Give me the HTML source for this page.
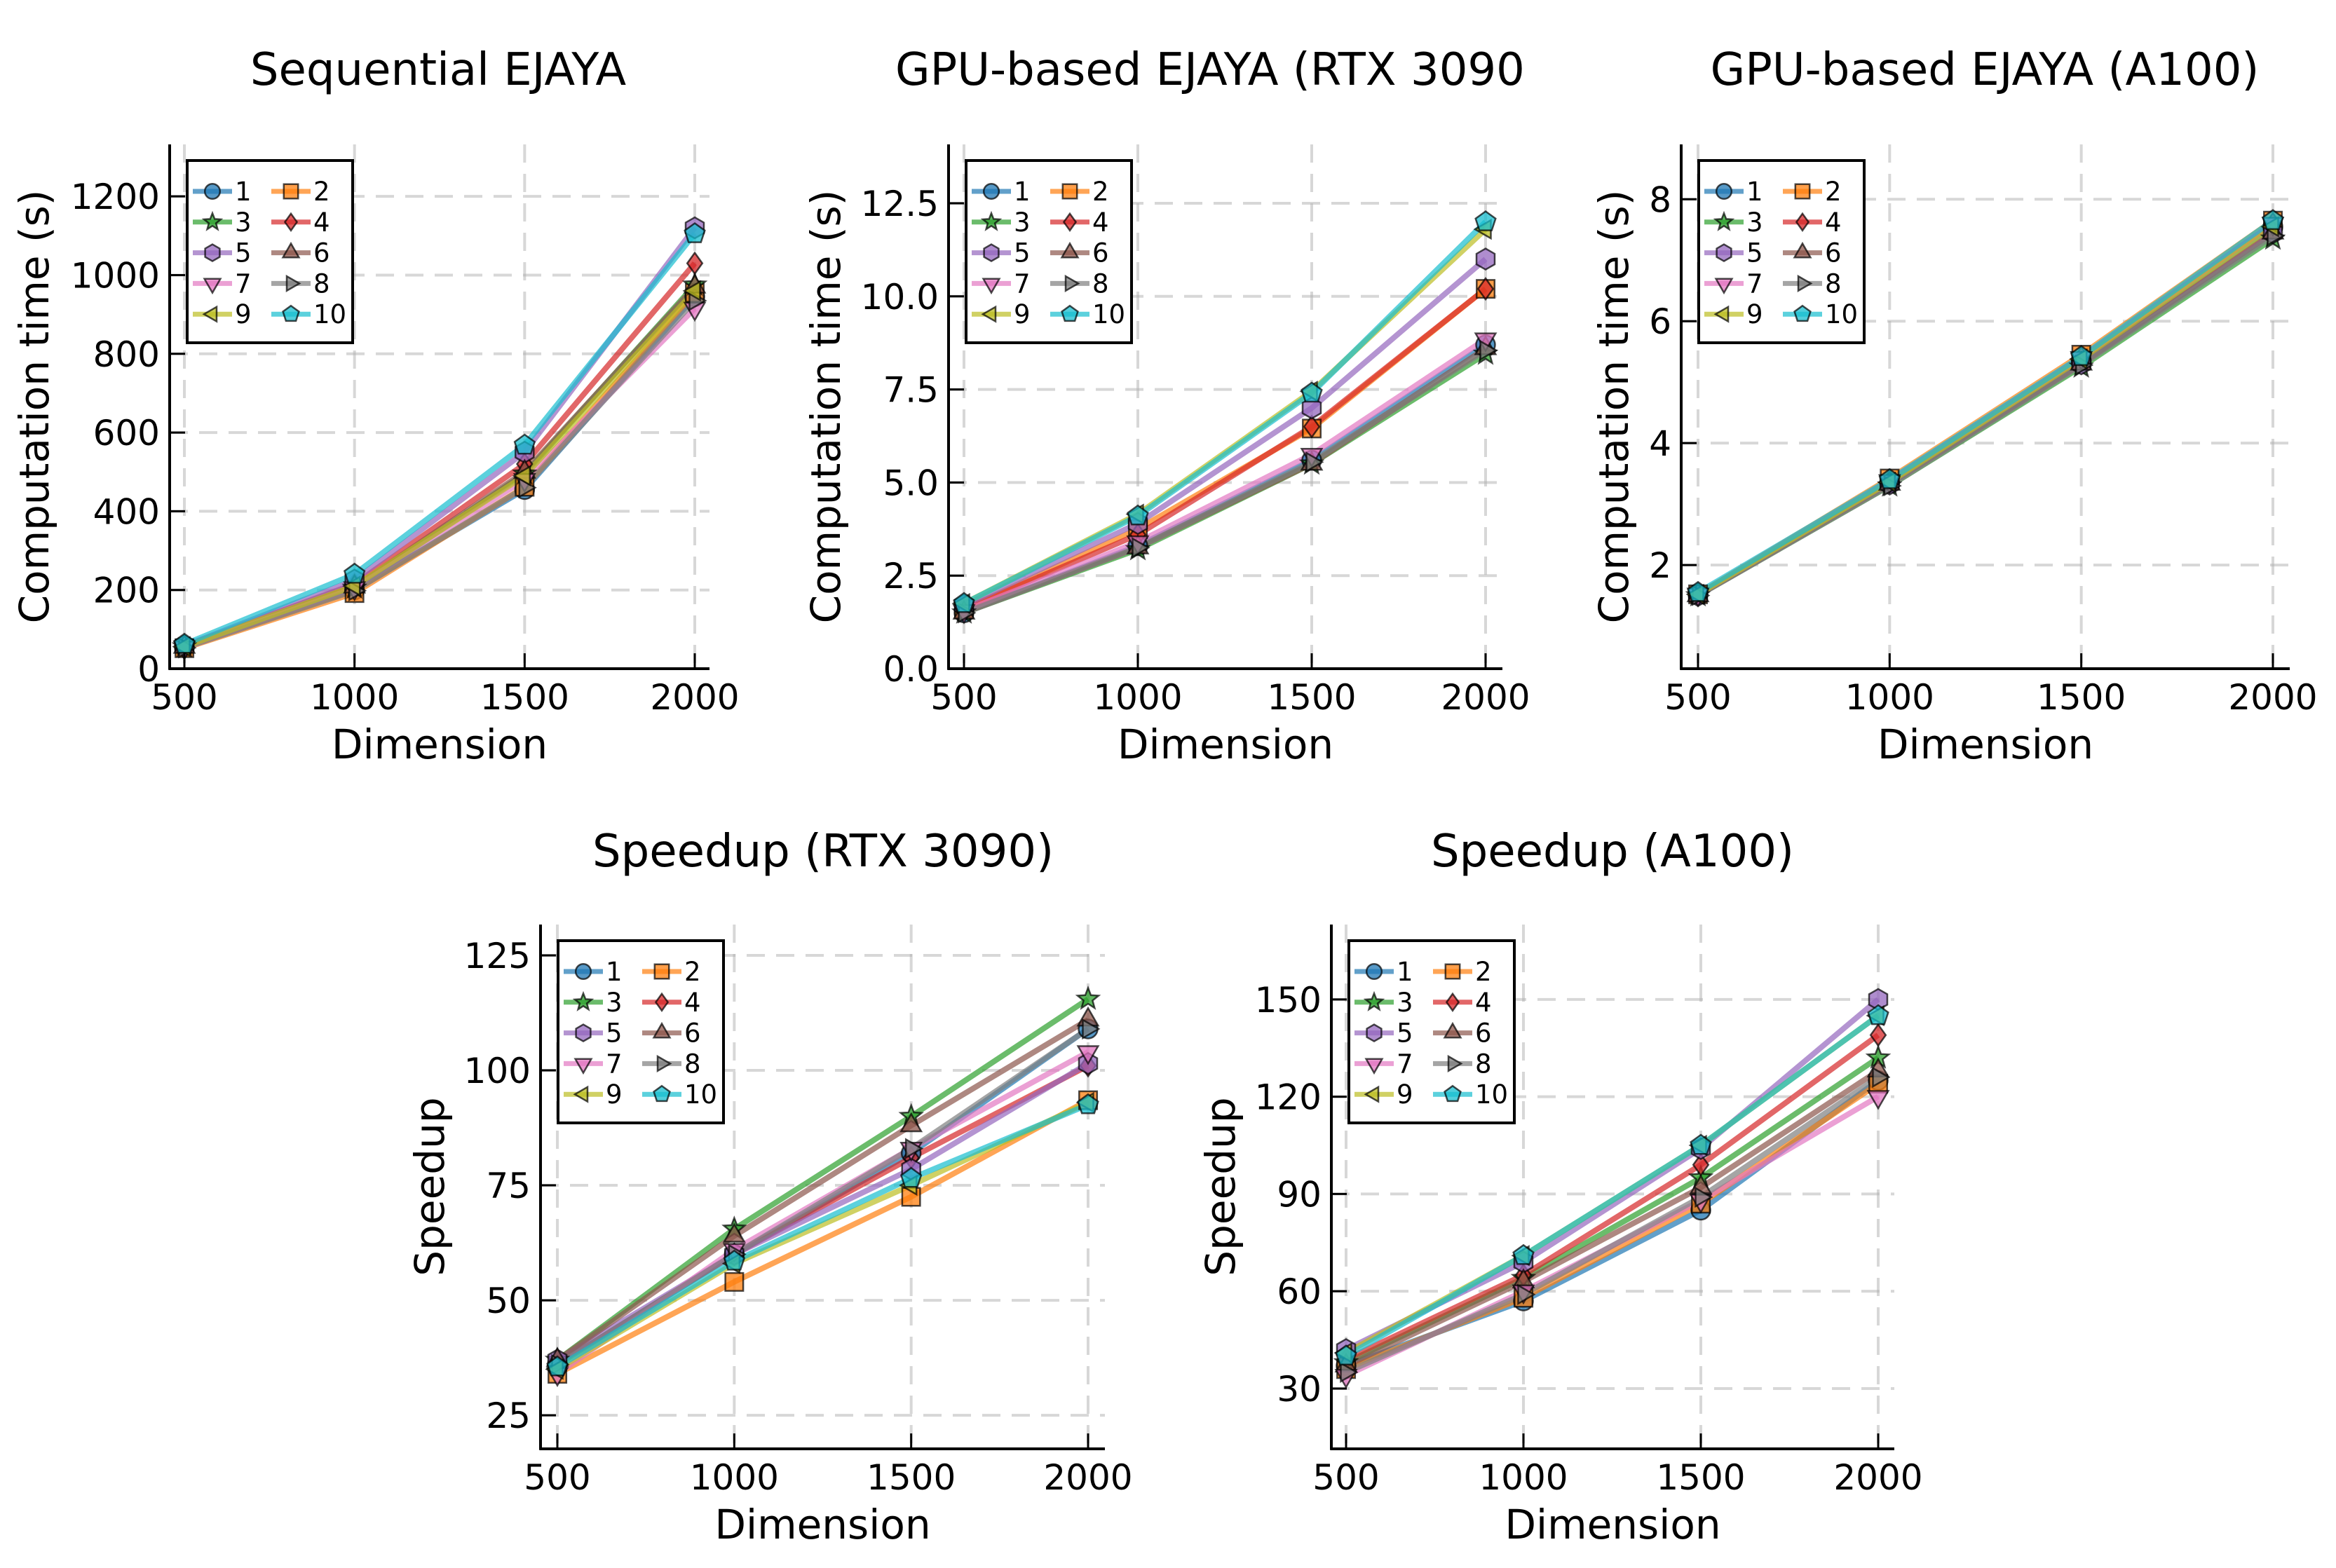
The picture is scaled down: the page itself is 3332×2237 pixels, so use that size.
<!DOCTYPE html>
<html><head><meta charset="utf-8"><style>
html,body{margin:0;padding:0;background:#fff;}
svg{display:block;font-family:"DejaVu Sans","Liberation Sans",sans-serif;}
</style></head><body>
<svg id="fig" width="3332" height="2237" viewBox="0 0 3332 2237" xmlns="http://www.w3.org/2000/svg">
<rect width="3332" height="2237" fill="#fff"/>
</svg>
<script>
const dims = [500, 1000, 1500, 2000];
const seriesNames = ["1","2","3","4","5","6","7","8","9","10"];
// Sequential EJAYA computation time (s)
const seqTime = [
 [55,200,455,945],[52,192,462,955],[56,205,495,975],[57,215,520,1030],[58,225,550,1120],
 [55,208,500,970],[54,205,480,915],[53,198,460,935],[56,210,490,960],[62,240,568,1105]];
// GPU RTX 3090 time (s)
const rtxTime = [
 [1.5,3.3,5.6,8.7],[1.6,3.75,6.45,10.2],[1.5,3.2,5.5,8.45],[1.6,3.6,6.5,10.2],[1.7,3.9,7.0,11.0],
 [1.5,3.25,5.5,8.6],[1.55,3.4,5.75,8.85],[1.5,3.25,5.55,8.55],[1.75,4.15,7.45,11.8],[1.75,4.1,7.4,12.0]];
// GPU A100 time (s)
const a100Time = [
 [1.52,3.35,5.35,7.55],[1.52,3.42,5.45,7.65],[1.5,3.3,5.25,7.35],[1.52,3.38,5.4,7.6],[1.5,3.33,5.3,7.45],
 [1.5,3.33,5.3,7.45],[1.52,3.38,5.4,7.6],[1.5,3.3,5.28,7.4],[1.52,3.36,5.38,7.55],[1.55,3.4,5.42,7.65]];
// Speedup RTX 3090
const rtxSpeed = [
 [36,60,82,109],[34,54,72.5,93.5],[37,65.5,90,115.5],[36,60,81,101],[37,60,78.5,101.5],
 [37,64,88,111],[34,61,83,104],[36,60,83,109],[35,58,75,93],[35.5,58.5,76.5,92.5]];
// Speedup A100
const a100Speed = [
 [37,57,85,125],[36,58,87,124],[38,64,95,132],[39,65,99,139],[42,69,104,150],
 [37,63,92,128],[34,60,88,120],[35,59,89,126],[41,71,105,145],[40,71,105,145]];
const seqTicks = [0,200,400,600,800,1000,1200];
const rtxTicks = [0.0,2.5,5.0,7.5,10.0,12.5];
const a100Ticks = [2,4,6,8];
const rtxSpeedTicks = [25,50,75,100,125];
const a100SpeedTicks = [30,60,90,120,150];

const colors = ["#1f77b4","#ff7f0e","#2ca02c","#d62728","#9467bd","#8c564b","#e377c2","#7f7f7f","#bcbd22","#17becf"];
const markers = ["o","s","*","D","h","^","v",">","<","p"];
const NS = "http://www.w3.org/2000/svg";
const fig = document.getElementById("fig");
function mk(tag, attrs, parent){ const e=document.createElementNS(NS,tag); for(const k in attrs) e.setAttribute(k,attrs[k]); (parent||fig).appendChild(e); return e; }

function polyPts(n, r, rot){ let p=[]; for(let i=0;i<n;i++){const a=rot+i*2*Math.PI/n; p.push([Math.cos(a)*r, Math.sin(a)*r]);} return p; }
function markerPoints(type, r){
  const up=-Math.PI/2;
  switch(type){
    case "s": return [[-r*0.85,-r*0.85],[r*0.85,-r*0.85],[r*0.85,r*0.85],[-r*0.85,r*0.85]];
    case "D": return [[0,-r],[r*0.72,0],[0,r],[-r*0.72,0]];
    case "h": return polyPts(6,r,up);
    case "p": return polyPts(5,r,up);
    case "^": return polyPts(3,r*1.1,up);
    case "v": return polyPts(3,r*1.1,Math.PI/2);
    case ">": return polyPts(3,r,0);
    case "<": return polyPts(3,r,Math.PI);
    case "*": { let p=[]; for(let i=0;i<10;i++){const a=up+i*Math.PI/5; const rr=i%2?r*0.45:r*1.05; p.push([Math.cos(a)*rr,Math.sin(a)*rr]);} return p; }
  }
  return null;
}
function drawMarker(g, type, x, y, r, color, name){
  let e;
  if(type==="o"){ e=mk("circle",{cx:x,cy:y,r:r*0.9},g); }
  else { const pts=markerPoints(type,r).map(p=>(x+p[0]).toFixed(1)+","+(y+p[1]).toFixed(1)).join(" "); e=mk("polygon",{points:pts},g); }
  e.setAttribute("fill",color); e.setAttribute("fill-opacity","0.75");
  e.setAttribute("stroke","#000"); e.setAttribute("stroke-opacity","0.7"); e.setAttribute("stroke-width","2.5");
  
  
  return e;
}

function panel(cfg){
  const g = mk("g",{});
  
  
  const {L,R,T,B,x500,x2000,ymin,ymax} = cfg;
  const sx = v => x500 + (v-500)*(x2000-x500)/1500;
  const sy = v => B - (v-ymin)*(B-T)/(ymax-ymin);
  dims.forEach(d=>{ const l=mk("line",{x1:sx(d),x2:sx(d),y1:T,y2:B,stroke:"#b0b0b0","stroke-opacity":"0.5","stroke-width":"4","stroke-dasharray":"26,16"},g);
      });
  cfg.ticks.forEach(t=>{ const l=mk("line",{x1:L,x2:R,y1:sy(t),y2:sy(t),stroke:"#b0b0b0","stroke-opacity":"0.5","stroke-width":"4","stroke-dasharray":"26,16"},g);
      });
  cfg.data.forEach((s,i)=>{
    const pts=s.map((v,j)=>sx(dims[j]).toFixed(1)+","+sy(v).toFixed(1)).join(" ");
    const pl=mk("polyline",{points:pts,fill:"none",stroke:colors[i],"stroke-opacity":"0.7","stroke-width":"8","stroke-linejoin":"round"},g);
    
    
  });
  cfg.data.forEach((s,i)=>{ s.forEach((v,j)=>drawMarker(g,markers[i],sx(dims[j]),sy(v),15,colors[i],'marker-'+seriesNames[i])); });
  const sp1=mk("line",{x1:L,x2:L,y1:T,y2:B+1.5,stroke:"#000","stroke-width":"4"},g);
   
  const sp2=mk("line",{x1:L-1.5,x2:R,y1:B,y2:B,stroke:"#000","stroke-width":"4"},g);
   
  dims.forEach(d=>{
    const tl=mk("line",{x1:sx(d),x2:sx(d),y1:B,y2:B-22,stroke:"#000","stroke-width":"3"},g);
     
    const tx=mk("text",{x:sx(d),y:B+58,"text-anchor":"middle","font-size":"50"},g); tx.textContent=d;
     
  });
  cfg.ticks.forEach(t=>{
    const tl=mk("line",{x1:L,x2:L+22,y1:sy(t),y2:sy(t),stroke:"#000","stroke-width":"3"},g);
     
    const tx=mk("text",{x:L-14,y:sy(t)+18,"text-anchor":"end","font-size":"50"},g); tx.textContent=cfg.fmt(t);
     
  });
  const xl=mk("text",{x:(L+R)/2,y:B+128,"text-anchor":"middle","font-size":"58"},g); xl.textContent="Dimension";
   
  const yl=mk("text",{x:cfg.ylx,y:(T+B)/2,"text-anchor":"middle","font-size":"58",transform:`rotate(-90 ${cfg.ylx} ${(T+B)/2})`,dy:"20"},g); yl.textContent=cfg.ylabel;
   
  const tt=mk("text",{x:cfg.titleX,y:cfg.titleY,"text-anchor":cfg.titleAnchor||"middle","font-size":"64"},g); tt.textContent=cfg.title;
   
  const lg=mk("g",{},g);
   
  const lx=L+25, ly=T+23;
  mk("rect",{x:lx,y:ly,width:236,height:260,fill:"#fff",stroke:"#000","stroke-width":"4"},lg);
  seriesNames.forEach((n,i)=>{
    const col=i%2, row=Math.floor(i/2);
    const hx=lx+8+col*112, hy=ly+44+row*43.8;
    const e=mk("g",{},lg);
     
    mk("line",{x1:hx,x2:hx+56,y1:hy,y2:hy,stroke:colors[i],"stroke-opacity":"0.7","stroke-width":"7"},e);
    drawMarker(e,markers[i],hx+28,hy,12,colors[i],'legend-marker-'+n);
    const t=mk("text",{x:hx+60,y:hy+13,"font-size":"37"},e); t.textContent=n;
  });
}

panel({name:"sequential-panel",L:242,R:1012,T:206,B:954,x500:263,x2000:991,ymin:0,ymax:1332,ticks:seqTicks,fmt:t=>String(t),data:seqTime,ylabel:"Computation time (s)",ylx:49,title:"Sequential EJAYA",titleX:625,titleY:121});
panel({name:"rtx3090-time-panel",L:1353,R:2143,T:206,B:954,x500:1375,x2000:2119,ymin:0,ymax:14.08,ticks:rtxTicks,fmt:t=>t.toFixed(1),data:rtxTime,ylabel:"Computation time (s)",ylx:1178,title:"GPU-based EJAYA (RTX 3090",titleX:1277,titleY:121,titleAnchor:"start"});
panel({name:"a100-time-panel",L:2398,R:3266,T:206,B:954,x500:2422,x2000:3242,ymin:0.3,ymax:8.9,ticks:a100Ticks,fmt:t=>String(t),data:a100Time,ylabel:"Computation time (s)",ylx:2302,title:"GPU-based EJAYA (A100)",titleX:2831,titleY:121});
panel({name:"rtx3090-speedup-panel",L:771,R:1576,T:1319,B:2067,x500:795,x2000:1552,ymin:17.7,ymax:131.7,ticks:rtxSpeedTicks,fmt:t=>String(t),data:rtxSpeed,ylabel:"Speedup",ylx:613,title:"Speedup (RTX 3090)",titleX:1174,titleY:1236});
panel({name:"a100-speedup-panel",L:1899,R:2702,T:1319,B:2067,x500:1920,x2000:2679,ymin:11.4,ymax:173.1,ticks:a100SpeedTicks,fmt:t=>String(t),data:a100Speed,ylabel:"Speedup",ylx:1741,title:"Speedup (A100)",titleX:2300,titleY:1236});
</script>
</body></html>
